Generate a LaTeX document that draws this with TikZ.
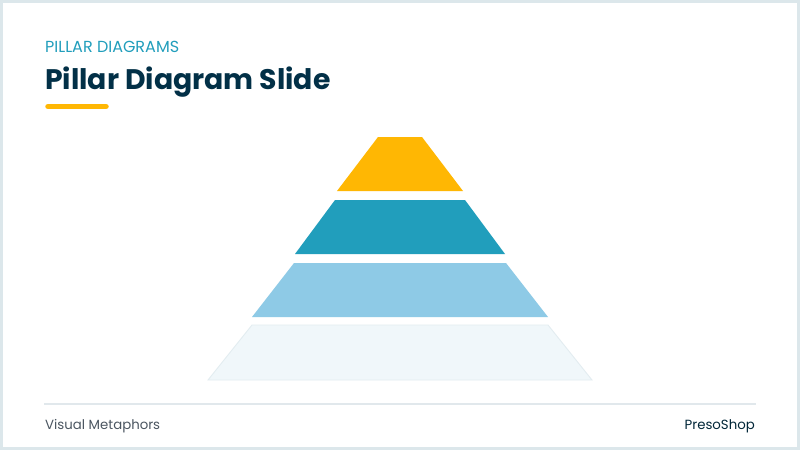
\documentclass[tikz,border=0pt]{standalone}
\usepackage{fontspec}
\setmainfont{Poppins}
\usepackage{tikz}
\usetikzlibrary{positioning,calc}
\definecolor{framec}{HTML}{DCE7EB}
\definecolor{tealc}{HTML}{219EBC}
\definecolor{navyc}{HTML}{023047}
\definecolor{goldc}{HTML}{FFB703}
\definecolor{skyc}{HTML}{8ECAE6}
\definecolor{palec}{HTML}{F0F7FA}
\definecolor{paleedge}{HTML}{E2ECF0}
\definecolor{rulec}{HTML}{E1E8EC}
\definecolor{footc}{HTML}{4B5661}
\tikzstyle{kicker} = [anchor=base west, inner sep=0pt, text=tealc, font=\fontsize{16}{18}\selectfont]
\tikzstyle{heading} = [anchor=base west, inner sep=0pt, text=navyc, font=\fontsize{28.3}{32}\selectfont\bfseries]
\tikzstyle{foot} = [inner sep=0pt, text=footc, font=\fontsize{13.3}{15}\selectfont]

\begin{document}
\begin{tikzpicture}[x=1pt, y=-1pt]
    \useasboundingbox (0,0) rectangle (800,450);
    % 背景和边框
    \fill[white] (0,0) rectangle (800,450);
    \draw[framec, line width=3pt] (1.5,1.5) rectangle (798.5,448.5);

    % 标题部分
    \node[kicker] (kicker) at (45,52) {PILLAR DIAGRAMS};
    \node[heading] (title) at (45,89) {Pillar Diagram Slide};
    \coordinate (barL) at (48,106.5);
    \coordinate (barR) at (106,106.5);
    \draw[goldc, line width=5.5pt, line cap=round] (barL) -- (barR);

    % 金字塔分层
    \fill[goldc] (378,137) -- (422,137) -- (463,191) -- (337,191) -- cycle;
    \fill[tealc] (335,200) -- (465,200) -- (505,254) -- (295,254) -- cycle;
    \fill[skyc] (294,263) -- (506,263) -- (548,317) -- (252,317) -- cycle;
    \filldraw[fill=palec, draw=paleedge, line width=0.8pt] (252,325) -- (548,325) -- (592,380) -- (208,380) -- cycle;

    % 页脚
    \coordinate (ruleL) at (44,404);
    \coordinate (ruleR) at (756,404);
    \draw[rulec, line width=2pt] (ruleL) -- (ruleR);
    \node[foot, anchor=base west] (source) at (45,429) {Visual Metaphors};
    \node[foot, anchor=base east, text=navyc!80!black] (brand) at (755,429) {PresoShop};
\end{tikzpicture}
\end{document}
